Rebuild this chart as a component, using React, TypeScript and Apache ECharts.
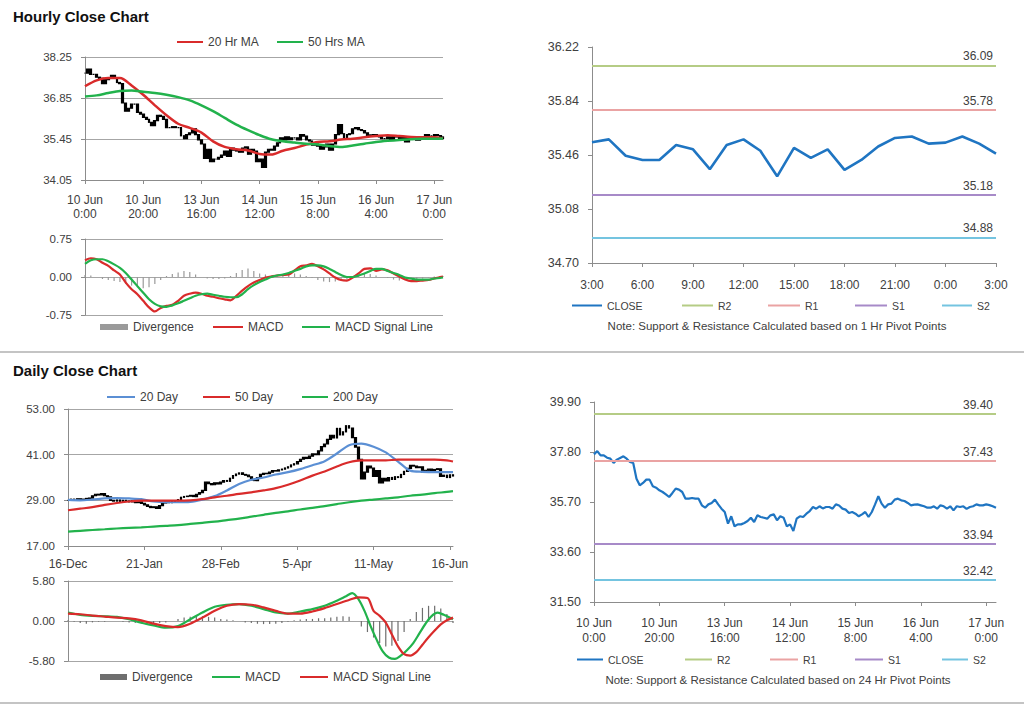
import React, { useEffect, useRef } from "react";
import * as echarts from "echarts";

const FONT = '"Liberation Sans", Arial, Helvetica, sans-serif';
const TEXT = "#404040";
const AXIS = "#8c8c8c";
const GRID = "#a6a6a6";
const RED = "#d92b2b";
const GREEN = "#22b24c";
const BLUE_MA = "#5b8fd4";
const CLOSE_BLUE = "#1f75c2";
const R2C = "#b5cc85";
const R1C = "#eaa3a3";
const S1C = "#a78ac8";
const S2C = "#74c4e0";

// ---------- Hourly data (10 Jun 0:00 -> 17 Jun ~3:00), one close per hour ----------
const hourlyClose = [
  37.70, 37.84, 37.66, 37.66, 37.56, 37.52, 37.34, 37.48, 37.55, 37.62,
  37.52, 37.38, 37.34, 36.68, 36.40, 36.50, 36.64, 36.64, 36.36, 36.30,
  36.19, 36.12, 36.02, 35.91, 36.08, 36.26, 36.22, 36.12, 35.84, 35.84,
  35.87, 35.84, 35.84, 35.56, 35.46, 35.60, 35.66, 35.80, 35.60, 35.42,
  35.28, 34.79, 35.10, 34.68, 34.76, 34.76, 34.82, 34.90, 35.04, 34.86,
  35.14, 35.07, 35.04, 35.00, 35.14, 35.18, 34.93, 35.10, 35.04, 34.68,
  34.76, 34.48, 35.00, 35.10, 35.07, 35.21, 35.32, 35.49, 35.42, 35.52,
  35.43, 35.49, 35.49, 35.42, 35.60, 35.55, 35.42, 35.38, 35.24, 35.28,
  35.21, 35.10, 35.18, 35.28, 35.07, 35.28, 35.60, 35.94, 35.63, 35.46,
  35.60, 35.63, 35.80, 35.84, 35.77, 35.74, 35.66, 35.56, 35.59, 35.60,
  35.56, 35.52, 35.46, 35.46, 35.52, 35.42, 35.56, 35.52, 35.42, 35.52,
  35.35, 35.52, 35.49, 35.52, 35.41, 35.49, 35.52, 35.60, 35.56, 35.56,
  35.60, 35.57, 35.52, 35.46,
];
const hourLabels = ["10 Jun\n0:00", "10 Jun\n20:00", "13 Jun\n16:00", "14 Jun\n12:00", "15 Jun\n8:00", "16 Jun\n4:00", "17 Jun\n0:00"];
const HOUR_LABEL_EVERY = 20;

// moving averages, one reading every 4 hours
const MA_STEP = 4;
const hourlyMA20 = [
  37.25, 37.45, 37.53, 37.53, 37.28, 36.96, 36.60, 36.26, 35.97, 35.83,
  35.67, 35.37, 35.18, 35.10, 35.06, 34.94, 34.92, 35.05, 35.14, 35.26,
  35.35, 35.37, 35.43, 35.46, 35.51, 35.55, 35.58, 35.55, 35.52, 35.51,
  35.51, 35.47,
];
const hourlyMA50 = [
  36.90, 36.94, 37.02, 37.09, 37.11, 37.06, 37.02, 36.96, 36.88, 36.77,
  36.60, 36.40, 36.17, 35.94, 35.75, 35.58, 35.44, 35.37, 35.33, 35.29,
  35.26, 35.21, 35.18, 35.23, 35.29, 35.35, 35.39, 35.42, 35.44, 35.46,
  35.46, 35.47,
];

// hourly MACD, one reading every 2 hours
const MACD_STEP = 2;
const hourlyMACD = [
  0.33, 0.37, 0.35, 0.28, 0.22, 0.13, 0.05, -0.11, -0.24, -0.34,
  -0.47, -0.60, -0.68, -0.61, -0.57, -0.55, -0.47, -0.37, -0.33, -0.31,
  -0.33, -0.37, -0.39, -0.42, -0.44, -0.46, -0.37, -0.27, -0.18, -0.11,
  -0.06, -0.01, 0.01, 0.03, 0.04, 0.05, 0.13, 0.21, 0.23, 0.26,
  0.21, 0.15, 0.07, -0.01, -0.06, -0.07, -0.01, 0.07, 0.16, 0.17,
  0.12, 0.15, 0.13, 0.07, 0.01, -0.05, -0.08, -0.08, -0.07, -0.06,
  -0.03, 0.0, 0.01,
];
const hourlySignal = [
  0.26, 0.33, 0.35, 0.35, 0.31, 0.25, 0.18, 0.08, -0.05, -0.18,
  -0.31, -0.44, -0.53, -0.58, -0.59, -0.56, -0.52, -0.47, -0.42, -0.37,
  -0.34, -0.33, -0.35, -0.37, -0.39, -0.40, -0.40, -0.34, -0.24, -0.16,
  -0.10, -0.05, 0.0, 0.03, 0.05, 0.08, 0.12, 0.16, 0.21, 0.23,
  0.23, 0.21, 0.16, 0.10, 0.04, 0.0, 0.0, 0.03, 0.07, 0.12,
  0.16, 0.16, 0.12, 0.08, 0.04, -0.01, -0.03, -0.05, -0.05, -0.05,
  -0.03, -0.02, -0.01,
];
const hourlyDivergence = [
  0.04, 0.03, 0.0, -0.04, -0.06, -0.08, -0.10, -0.14, -0.17, -0.20,
  -0.22, -0.20, -0.14, -0.06, 0.02, 0.06, 0.09, 0.12, 0.10, 0.05,
  0.0, -0.03, -0.04, -0.04, -0.03, 0.02, 0.08, 0.14, 0.17, 0.12,
  0.07, 0.05, 0.03, 0.03, 0.04, 0.06, 0.07, 0.05, 0.02, -0.02,
  -0.06, -0.09, -0.10, -0.09, -0.07, -0.05, -0.01, 0.03, 0.06, 0.06,
  0.03, 0.0, -0.02, -0.05, -0.07, -0.06, -0.05, -0.04, -0.03, -0.01,
  0.01, 0.02, 0.02,
];

// last 24 hours (1 Hr pivot chart)
const pivotHours = ["3:00", "4:00", "5:00", "6:00", "7:00", "8:00", "9:00", "10:00", "11:00", "12:00", "13:00", "14:00", "15:00", "16:00", "17:00", "18:00", "19:00", "20:00", "21:00", "22:00", "23:00", "0:00", "1:00", "2:00", "3:00"];
const pivotHourClose = [
  35.55, 35.57, 35.455, 35.425, 35.425, 35.53, 35.50, 35.36, 35.53, 35.57,
  35.49, 35.31, 35.51, 35.44, 35.50, 35.355, 35.425, 35.52, 35.58, 35.59,
  35.54, 35.547, 35.59, 35.54, 35.47,
];
const hourPivotNames = ["R2", "R1", "S1", "S2"];
const hourPivotValues = [36.09, 35.78, 35.18, 34.88];
const dayPivotValues = [39.40, 37.43, 33.94, 32.42];

// ---------- Daily data (16-Dec -> 16-Jun) ----------
const dailyClose = [
  29.0, 29.3, 29.1, 29.4, 29.2, 29.3, 29.5,
  29.6, 30.2, 30.6, 30.4, 30.8, 30.2, 29.9,
  29.0, 28.8, 29.1, 28.7, 29.0, 28.8, 28.6,
  28.9, 28.4, 28.6, 28.2, 27.8, 27.4, 27.1,
  27.3, 26.9, 27.6, 28.3, 28.6, 28.4,
  28.7, 28.9, 29.2, 29.8, 30.0, 30.1,
  30.3, 30.0, 30.6, 31.0, 31.6, 33.8,
  33.4, 33.1, 33.6, 33.3, 33.8, 34.2, 34.0,
  34.8, 35.5, 35.9, 36.2, 35.8, 35.6, 35.2, 34.4,
  34.2, 35.0, 35.8, 36.1, 36.0, 36.4, 36.8,
  36.7, 37.0, 37.2, 37.5, 37.8, 38.3, 38.6,
  39.2, 39.8, 40.3, 40.0, 40.6, 41.2, 41.0,
  42.0, 43.1, 43.8, 45.0, 46.1, 45.4, 47.9,
  46.2, 47.0, 48.6, 48.0, 45.5, 43.0, 39.8,
  34.6, 36.4, 38.0, 37.5, 35.3, 36.8, 33.6,
  34.8, 34.1, 35.0, 34.5, 35.2, 35.0, 35.8,
  36.6, 37.4, 38.2, 38.0, 37.6, 37.8, 36.4,
  36.9, 37.2, 36.8, 37.1, 37.3, 35.3, 35.6, 35.0, 35.7, 35.4,
];
const dayLabels = ["16-Dec", "21-Jan", "28-Feb", "5-Apr", "11-May", "16-Jun"];
const DAY_LABEL_EVERY = 25;

const dailyMA20 = [
  29.1, 29.0, 29.2, 29.5, 29.6, 29.5, 29.3, 28.7, 28.5, 28.5,
  28.6, 29.2, 30.1, 31.6, 33.3, 34.4, 35.0, 35.8, 36.4, 37.2,
  38.2, 39.3, 41.3, 43.5, 43.9, 43.1, 41.6, 39.2, 36.8, 36.5,
  36.4, 36.4, 36.4,
];
const dailyMA50 = [
  26.4, 26.8, 27.2, 27.8, 28.3, 28.7, 28.9, 28.9, 28.9, 28.9,
  29.0, 29.3, 29.8, 30.2, 30.7, 31.1, 31.6, 32.2, 33.1, 34.2,
  35.5, 36.6, 37.9, 39.0, 39.5, 39.5, 39.5, 39.7, 39.7, 39.7,
  39.7, 39.5, 39.2,
];
const dailyMA200 = [
  20.8, 21.0, 21.2, 21.4, 21.6, 21.75, 21.9, 22.1, 22.3, 22.5,
  22.8, 23.1, 23.4, 23.8, 24.2, 24.7, 25.2, 25.7, 26.1, 26.6,
  27.0, 27.5, 28.0, 28.5, 28.9, 29.2, 29.5, 29.8, 30.2, 30.5,
  30.9, 31.2, 31.4,
];

// daily MACD readings: [day index, value]
const dailyMACD = [
  [0, 1.23], [4, 0.88], [8, 0.74], [12, 0.69], [16, 0.59], [20, 0.25], [24, -0.25], [28, -0.64], [32, -0.98], [36, -0.74],
  [40, 0.25], [44, 1.23], [48, 2.06], [52, 2.36], [56, 2.46], [60, 2.21], [64, 1.72], [68, 1.23], [72, 1.08], [76, 1.38],
  [80, 1.72], [84, 2.21], [88, 2.95], [91, 3.6], [93, 4.03], [95, 3.2], [97, 1.5], [99, -0.7], [101, -2.7], [103, -4.4],
  [105, -5.3], [107, -5.5], [109, -5.0], [111, -4.2], [113, -3.2], [115, -1.8], [117, -0.4], [119, 0.7], [121, 1.2], [123, 0.9],
  [126, 0.25],
];
const dailySignal = [
  [0, 1.08], [4, 0.98], [8, 0.79], [12, 0.64], [16, 0.49], [20, 0.39], [24, 0.1], [28, -0.39], [32, -0.74], [36, -0.88],
  [40, -0.39], [44, 0.49], [48, 1.47], [52, 2.21], [56, 2.46], [60, 2.36], [64, 1.97], [68, 1.47], [72, 1.08], [76, 1.08],
  [80, 1.38], [84, 1.87], [88, 2.46], [92, 3.05], [95, 3.44], [98, 3.34], [100, 1.47], [102, 0.74], [104, -0.25], [106, -1.97],
  [108, -3.69], [110, -4.82], [112, -5.01], [114, -4.52], [116, -3.44], [118, -2.36], [120, -1.38], [122, -0.49], [124, 0.1], [126, 0.49],
];
const dailyDivergence = [
  0.1, -0.1, -0.3, -0.4, -0.2, -0.1, -0.1, 0.0, 0.0, -0.1,
  -0.2, -0.3, -0.35, -0.4, -0.35, -0.3, -0.2, 0.0, 0.3, 0.5,
  0.6, 0.7, 0.7, 0.6, 0.5, 0.3, 0.2, 0.1, 0.0, -0.2,
  -0.3, -0.4, -0.45, -0.45, -0.4, -0.3, -0.1, 0.1, 0.2, 0.3,
  0.3, 0.4, 0.4, 0.5, 0.6, 0.7, 0.6, 0.0, -0.8, -1.6,
  -2.4, -3.2, -3.7, -3.6, -2.9, -1.6, 0.3, 1.3, 1.9, 2.2,
  2.2, 1.8, 1.0, -0.3,
];

// axis tick values
const hourlyTicks = [34.05, 35.45, 36.85, 38.25];
const hourlyMacdTicks = [-0.75, 0, 0.75];
const pivotHourTicks = [34.70, 35.08, 35.46, 35.84, 36.22];
const dailyTicks = [17, 29, 41, 53];
const dailyMacdTicks = [-5.8, 0, 5.8];
const pivotDayTicks = [31.5, 33.6, 35.7, 37.8, 39.9];

// ---------- helpers ----------
const NH = hourlyClose.length;
const ND = dailyClose.length;
const hourCats = hourlyClose.map((_, i) => String(i));
const dayCats = dailyClose.map((_, i) => String(i));

const stepPairs = (vals: number[], step: number, n: number) =>
  vals.map((v, i) => [Math.min(i * step, n - 1), v]);

const candles = (closes: number[]) =>
  closes.map((c, i) => {
    const o = i === 0 ? c : closes[i - 1];
    return [o, c, Math.min(o, c), Math.max(o, c)];
  });

function yAxis(gridIndex: number, ticks: number[], split: boolean, fontSize = 11.5) {
  return {
    type: "value",
    gridIndex,
    min: ticks[0],
    max: ticks[ticks.length - 1],
    axisLine: { show: true, lineStyle: { color: AXIS, width: 1 } },
    axisTick: { show: true, length: 4, customValues: ticks, lineStyle: { color: AXIS } },
    axisLabel: {
      customValues: ticks,
      formatter: (v: number) => v.toFixed(2),
      color: TEXT,
      fontSize,
      fontFamily: FONT,
      margin: 13,
    },
    splitLine: { show: split, lineStyle: { color: GRID, width: 1 } },
  };
}

function catAxis(gridIndex: number, data: string[], every: number, labels: string[] | null, margin: number, lineHeight: number, fontSize = 12) {
  const pick = (i: number) => i % every === 0;
  return {
    type: "category",
    gridIndex,
    data,
    boundaryGap: false,
    axisLine: { show: true, onZero: false, lineStyle: { color: AXIS, width: 1 } },
    axisTick: { show: true, length: 4, interval: pick, lineStyle: { color: AXIS } },
    axisLabel: {
      show: true,
      interval: pick,
      formatter: (v: string, i: number) => (labels ? labels[i / every] ?? "" : v),
      color: TEXT,
      fontSize,
      fontFamily: FONT,
      margin,
      lineHeight,
    },
    splitLine: { show: false },
  };
}

function hiddenCat(gridIndex: number, data: string[]) {
  return {
    type: "category",
    gridIndex,
    data,
    boundaryGap: false,
    axisLine: { show: false },
    axisTick: { show: false },
    axisLabel: { show: false },
    splitLine: { show: false },
  };
}

function lineSeries(name: string, axis: number, data: any, color: string, width: number, smooth: any = false) {
  return {
    type: "line",
    name,
    xAxisIndex: axis,
    yAxisIndex: axis,
    data,
    symbol: "none",
    showSymbol: false,
    smooth,
    itemStyle: { color },
    lineStyle: { color, width },
    z: 3,
  };
}

function pivotSeries(name: string, axis: number, value: number, color: string) {
  return {
    type: "line",
    name,
    xAxisIndex: axis,
    yAxisIndex: axis,
    data: [],
    symbol: "none",
    itemStyle: { color },
    lineStyle: { color, width: 2 },
    markLine: {
      silent: true,
      symbol: ["none", "none"],
      lineStyle: { color, width: 2, type: "solid" },
      label: {
        show: true,
        position: "insideEndTop",
        formatter: () => value.toFixed(2),
        color: TEXT,
        fontSize: 12,
        fontFamily: FONT,
        distance: 3,
      },
      data: [{ yAxis: value }],
    },
  };
}

function legendItem(name: string, left: number, cy: number, w = 28, h = 2, fs = 12) {
  return {
    data: [name],
    left,
    top: cy - 7,
    padding: 0,
    orient: "horizontal",
    selectedMode: false,
    icon: "rect",
    itemWidth: w,
    itemHeight: h,
    textStyle: { color: TEXT, fontSize: fs, fontFamily: FONT },
    formatter: (n: string) => n.trim(),
  };
}

const candleStyle = {
  color: "#000",
  color0: "#000",
  borderColor: "#000",
  borderColor0: "#000",
  borderWidth: 1.2,
};

function buildOption() {
  const pivotColors = [R2C, R1C, S1C, S2C];
  return {
    animation: false,
    backgroundColor: "#ffffff",
    grid: [
      { left: 85, top: 57, width: 358, height: 123 },
      { left: 85, top: 239, width: 358, height: 76 },
      { left: 592, top: 47, width: 404, height: 216 },
      { left: 68, top: 409, width: 385, height: 137 },
      { left: 68, top: 581, width: 385, height: 80 },
      { left: 594, top: 402, width: 402, height: 200 },
    ],
    xAxis: [
      catAxis(0, hourCats, HOUR_LABEL_EVERY, hourLabels, 13, 14),
      hiddenCat(1, hourCats),
      catAxis(2, pivotHours, 3, null, 15, 14),
      catAxis(3, dayCats, DAY_LABEL_EVERY, dayLabels, 11, 14),
      hiddenCat(4, dayCats),
      catAxis(5, hourCats, HOUR_LABEL_EVERY, hourLabels, 13, 15),
    ],
    yAxis: [
      yAxis(0, hourlyTicks, true),
      yAxis(1, hourlyMacdTicks, true),
      yAxis(2, pivotHourTicks, false, 12.5),
      yAxis(3, dailyTicks, true),
      yAxis(4, dailyMacdTicks, true),
      yAxis(5, pivotDayTicks, false, 12.5),
    ],
    legend: [
      legendItem("20 Hr MA", 177, 43, 26),
      legendItem("50 Hrs MA", 277, 43, 26),
      legendItem("Divergence", 100, 328, 28, 6),
      legendItem("MACD", 213, 328, 30),
      legendItem("MACD Signal Line", 302, 328, 28),
      legendItem("CLOSE", 572, 307, 30, 2, 10.5),
      legendItem("R2", 682, 307, 31, 2, 10.5),
      legendItem("R1", 768, 307, 32, 2, 10.5),
      legendItem("S1", 855, 307, 32, 2, 10.5),
      legendItem("S2", 942, 307, 30, 2, 10.5),
      legendItem("20 Day", 107, 398, 28),
      legendItem("50 Day", 203, 398, 27),
      legendItem("200 Day", 302, 398, 26),
      legendItem("Divergence ", 100, 678, 27, 6),
      legendItem("MACD ", 212, 678, 28),
      legendItem("MACD Signal Line ", 300, 678, 28),
      legendItem("CLOSE", 577, 661, 26, 2, 10.5),
      legendItem("R2", 685, 661, 27, 2, 10.5),
      legendItem("R1", 770, 661, 28, 2, 10.5),
      legendItem("S1", 855, 661, 28, 2, 10.5),
      legendItem("S2", 942, 661, 26, 2, 10.5),
    ],
    series: [
      // hourly price bars + MAs
      {
        type: "candlestick",
        name: "Hourly",
        xAxisIndex: 0,
        yAxisIndex: 0,
        data: candles(hourlyClose),
        barWidth: 2.4,
        itemStyle: candleStyle,
        z: 2,
      },
      lineSeries("20 Hr MA", 0, stepPairs(hourlyMA20, MA_STEP, NH), RED, 2.5, 0.3),
      lineSeries("50 Hrs MA", 0, stepPairs(hourlyMA50, MA_STEP, NH), GREEN, 2.5, 0.3),
      // hourly MACD
      {
        type: "bar",
        name: "Divergence",
        xAxisIndex: 1,
        yAxisIndex: 1,
        data: stepPairs(hourlyDivergence, MACD_STEP, NH),
        barWidth: 1.2,
        itemStyle: { color: "#9a9a9a" },
      },
      lineSeries("MACD", 1, stepPairs(hourlyMACD, MACD_STEP, NH), RED, 2.2, 0.3),
      lineSeries("MACD Signal Line", 1, stepPairs(hourlySignal, MACD_STEP, NH), GREEN, 2.2, 0.3),
      // 1 Hr pivot chart
      lineSeries("CLOSE", 2, pivotHourClose, CLOSE_BLUE, 2.6),
      ...hourPivotNames.map((n, i) => pivotSeries(n, 2, hourPivotValues[i], pivotColors[i])),
      // daily bars + MAs
      {
        type: "candlestick",
        name: "Daily",
        xAxisIndex: 3,
        yAxisIndex: 3,
        data: candles(dailyClose),
        barWidth: 2.2,
        itemStyle: candleStyle,
        z: 2,
      },
      lineSeries("20 Day", 3, stepPairs(dailyMA20, MA_STEP, ND), BLUE_MA, 2.2, 0.3),
      lineSeries("50 Day", 3, stepPairs(dailyMA50, MA_STEP, ND), RED, 2.2, 0.3),
      lineSeries("200 Day", 3, stepPairs(dailyMA200, MA_STEP, ND), GREEN, 2.2, 0.3),
      // daily MACD
      {
        type: "bar",
        name: "Divergence ",
        xAxisIndex: 4,
        yAxisIndex: 4,
        data: stepPairs(dailyDivergence, MACD_STEP, ND),
        barWidth: 1.2,
        itemStyle: { color: "#6e6e6e" },
      },
      lineSeries("MACD ", 4, dailyMACD, GREEN, 2.2, 0.3),
      lineSeries("MACD Signal Line ", 4, dailySignal, RED, 2.2, 0.3),
      // 24 Hr pivot chart
      lineSeries("CLOSE", 5, hourlyClose, CLOSE_BLUE, 2.2),
      ...hourPivotNames.map((n, i) => pivotSeries(n, 5, dayPivotValues[i], pivotColors[i])),
    ],
    graphic: [
      {
        type: "text",
        x: 13,
        y: 16,
        style: { text: "Hourly Close Chart", font: `bold 15px ${FONT}`, fill: "#111", verticalAlign: "middle" },
      },
      {
        type: "text",
        x: 13,
        y: 370,
        style: { text: "Daily Close Chart", font: `bold 15px ${FONT}`, fill: "#111", verticalAlign: "middle" },
      },
      {
        type: "text",
        x: 777,
        y: 326,
        style: {
          text: "Note: Support & Resistance Calculated based on 1 Hr Pivot Points",
          font: `11.5px ${FONT}`,
          fill: TEXT,
          align: "center",
          verticalAlign: "middle",
        },
      },
      {
        type: "text",
        x: 778,
        y: 680,
        style: {
          text: "Note: Support & Resistance Calculated based on 24 Hr Pivot Points",
          font: `11.5px ${FONT}`,
          fill: TEXT,
          align: "center",
          verticalAlign: "middle",
        },
      },
      {
        type: "line",
        shape: { x1: 0, y1: 352, x2: 1024, y2: 352 },
        style: { stroke: "#8a8a8a", lineWidth: 1.2 },
      },
      {
        type: "line",
        shape: { x1: 0, y1: 703, x2: 1024, y2: 703 },
        style: { stroke: "#8a8a8a", lineWidth: 1.2 },
      },
    ],
  };
}

export default function App() {
  const ref = useRef<HTMLDivElement>(null);
  useEffect(() => {
    if (!ref.current) return;
    const chart = echarts.init(ref.current, undefined, { renderer: "svg" });
    chart.setOption(buildOption() as any);
    return () => chart.dispose();
  }, []);
  return (
    <div
      ref={ref}
      style={{ position: "absolute", left: 0, top: 0, width: 1024, height: 706, background: "#fff" }}
    />
  );
}
